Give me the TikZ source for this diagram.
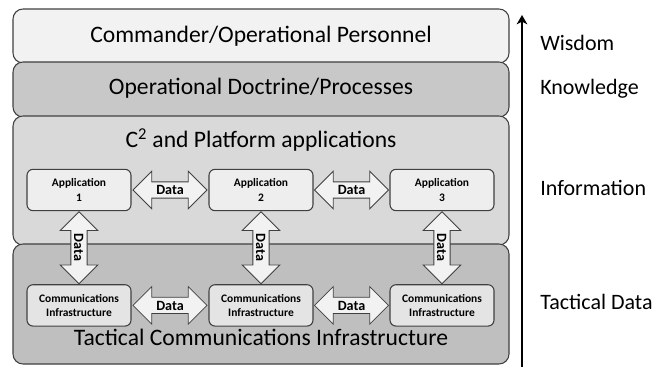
\documentclass[tikz,border=0pt]{standalone}
\usepackage{fontspec}
\setmainfont{Carlito}
\usetikzlibrary{arrows.meta,positioning,calc,shapes.arrows}
\definecolor{lyA}{HTML}{F2F2F2}
\definecolor{lyB}{HTML}{C8C8C8}
\definecolor{lyC}{HTML}{D9D9D9}
\definecolor{lyD}{HTML}{BFBFBF}
\definecolor{bxA}{HTML}{EEEEEE}
\definecolor{bxB}{HTML}{E4E4E4}
\definecolor{edge}{HTML}{404040}
\tikzset{
  lyr/.style={draw=edge,line width=0.8pt,rounded corners=7.5pt},
  ttl/.style={font=\fontsize{17.7}{20}\selectfont,text height=12pt,text depth=3.5pt,inner sep=0pt},
  box/.style={draw=edge,line width=0.8pt,rounded corners=4.5pt,minimum width=78pt,
    minimum height=31pt,align=center,font=\fontsize{8.6}{11}\selectfont\bfseries},
  dat/.style={double arrow,draw=edge,fill=lyA,line width=0.6pt,double arrow head extend=8pt,
    inner xsep=2pt,inner ysep=2.2pt,text height=7.2pt,text depth=0pt,
    font=\fontsize{10.6}{11}\selectfont\bfseries},
  lbl/.style={anchor=west,font=\fontsize{16.5}{18}\selectfont,inner sep=0pt},
  axe/.style={line width=1.5pt,-{Stealth[length=7pt,width=8pt,inset=2pt]}},
}
\begin{document}
\begin{tikzpicture}[x=0.75pt,y=-0.75pt]
  \useasboundingbox (0,0) rectangle (667,367);
  \draw[lyr,fill=lyA] (13,9) rectangle (509,63);
  \draw[lyr,fill=lyB] (13,62) rectangle (509,117);
  \draw[lyr,fill=lyC] (13,116) rectangle (509,245);
  \draw[lyr,fill=lyD] (13,244) rectangle (509,364);
  \node[ttl] (cmd) at (261,37) {Commander/Operational Personnel};
  \node[ttl] (doc) at (261,89) {Operational Doctrine/Processes};
  \node[ttl] (cap) at (261,142) {C\textsuperscript{2} and Platform applications};
  \node[ttl] (tci) at (261,340) {Tactical Communications Infrastructure};
  \node[box,fill=bxA] (app1) at (79,190) {Application\\1};
  \node[box,fill=bxA] (app2) at (261,190) {Application\\2};
  \node[box,fill=bxA] (app3) at (442,190) {Application\\3};
  \node[box,fill=bxB,below=54.75pt of app1,text depth=0pt] (com1) {Communications\\Infrastructure};
  \node[box,fill=bxB,below=54.75pt of app2,text depth=0pt] (com2) {Communications\\Infrastructure};
  \node[box,fill=bxB,below=54.75pt of app3,text depth=0pt] (com3) {Communications\\Infrastructure};
  \node[dat,minimum height=55.5pt] (a12) at ($(app1.east)!.5!(app2.west)$) {Data};
  \node[dat,minimum height=55.5pt] (a23) at ($(app2.east)!.5!(app3.west)$) {Data};
  \node[dat,minimum height=55.5pt] (c12) at ($(com1.east)!.5!(com2.west)$) {Data};
  \node[dat,minimum height=55.5pt] (c23) at ($(com2.east)!.5!(com3.west)$) {Data};
  \foreach \i in {1,2,3}
    \node[dat,rotate=-90,minimum height=54pt] (v\i) at ($(app\i.south)!.5!(com\i.north)$) {Data};
  \coordinate (axb) at (522,367);
  \coordinate (axt) at (522,15);
  \draw[axe] (axb) -- (axt);
  \node[lbl] (wis) at (540,43) {Wisdom};
  \node[lbl] (kno) at (540,89) {Knowledge};
  \node[lbl] (inf) at (540,188) {Information};
  \node[lbl] (tac) at (540,302) {Tactical Data};
\end{tikzpicture}
\end{document}
